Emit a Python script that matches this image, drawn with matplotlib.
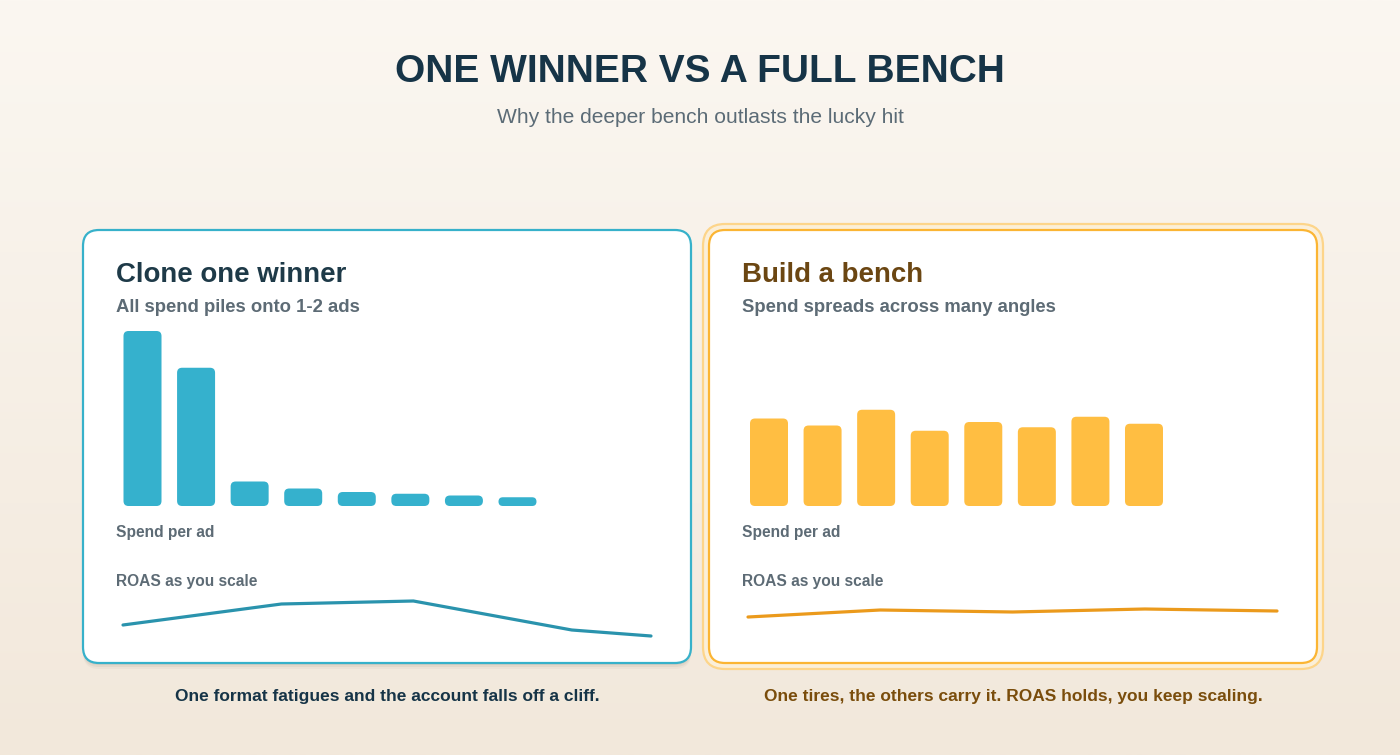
import numpy as np
import matplotlib
matplotlib.use("Agg")
import matplotlib.pyplot as plt
from matplotlib.patches import FancyBboxPatch

plt.rcParams['font.family'] = ['Liberation Sans', 'DejaVu Sans']

# data
ads = np.arange(8)
clone_spend = [100, 79, 14, 10, 8, 7, 6, 5]
bench_spend = [50, 46, 55, 43, 48, 45, 51, 47]
clone_scale = [0, 30, 55, 85, 100]
clone_roas = [3.16, 4.0, 4.12, 2.96, 2.72]
bench_scale = [0, 25, 50, 75, 100]
bench_roas = [3.48, 3.76, 3.68, 3.8, 3.72]

title = "ONE WINNER VS A FULL BENCH"
subtitle = "Why the deeper bench outlasts the lucky hit"

W, H = 1400, 755
fig = plt.figure(figsize=(W / 100, H / 100), dpi=100)

# pixel-coordinate overlay
bg = fig.add_axes([0, 0, 1, 1])
bg.set_xlim(0, W)
bg.set_ylim(H, 0)
bg.axis("off")
grad = np.linspace(0, 1, 256)[:, None]
top = np.array([251, 247, 241]) / 255
bot = np.array([242, 232, 219]) / 255
img = top[None, None, :] * (1 - grad[..., None]) + bot[None, None, :] * grad[..., None]
bg.imshow(img, extent=[0, W, H, 0], aspect="auto", zorder=0)


def card(x0, x1, y0, y1, edge, halo=None):
    # soft shadow
    for off, a in [(6, 0.10), (4, 0.18), (2, 0.25)]:
        bg.add_patch(FancyBboxPatch((x0, y0 + off), x1 - x0, y1 - y0,
                                    boxstyle="round,pad=0,rounding_size=16",
                                    fc="#b8ad9c", ec="none", alpha=a, zorder=1))
    if halo:
        bg.add_patch(FancyBboxPatch((x0 - 6, y0 - 6), x1 - x0 + 12, y1 - y0 + 12,
                                    boxstyle="round,pad=0,rounding_size=22",
                                    fc="#fbefd8", ec=halo, lw=1.6, zorder=1.5))
    bg.add_patch(FancyBboxPatch((x0, y0), x1 - x0, y1 - y0,
                                boxstyle="round,pad=0,rounding_size=16",
                                fc="white", ec=edge, lw=1.6, zorder=2))


card(83, 691, 230, 663, "#37b1ca")
card(709, 1317, 230, 663, "#fbb533", halo="#fdd58a")

bg.text(700, 82, title, ha="center", va="baseline", fontsize=28, fontweight="bold",
        color="#163447", zorder=5)
bg.text(700, 123, subtitle, ha="center", va="baseline", fontsize=15.1, color="#5b6b76", zorder=5)

panels = [
    (116, "Clone one winner", "#1e3a48", "All spend piles onto 1-2 ads"),
    (742, "Build a bench", "#6b4612", "Spend spreads across many angles"),
]
for x, t, c, s in panels:
    bg.text(x, 282, t, ha="left", va="baseline", fontsize=19.9, fontweight="bold", color=c, zorder=5)
    bg.text(x, 312, s, ha="left", va="baseline", fontsize=13.3, fontweight="bold", color="#5d6b75", zorder=5)
    bg.text(x, 537, "Spend per ad", ha="left", va="baseline", fontsize=11.2, fontweight="bold",
            color="#5d6b75", zorder=5)
    bg.text(x, 586, "ROAS as you scale", ha="left", va="baseline", fontsize=11.2, fontweight="bold",
            color="#5d6b75", zorder=5)

bg.text(387, 701, "One format fatigues and the account falls off a cliff.", ha="center",
        va="baseline", fontsize=12.5, fontweight="bold", color="#163447", zorder=5)
bg.text(1013, 701, "One tires, the others carry it. ROAS holds, you keep scaling.", ha="center",
        va="baseline", fontsize=12.5, fontweight="bold", color="#7a4d0c", zorder=5)


def px_axes(x0, x1, y0, y1):
    return fig.add_axes([x0 / W, 1 - y1 / H, (x1 - x0) / W, (y1 - y0) / H])


pitch = 53.57  # px between bar centres
ymax_px = 175.0  # px for value 100


def bar_panel(first_centre, values, color):
    x0 = first_centre - 42.5
    x1 = x0 + 580
    ax = px_axes(x0, x1, 320, 506)
    left = -(first_centre - x0) / pitch
    ax.set_xlim(left, left + 580 / pitch)
    ax.set_ylim(0, 186 / ymax_px * 100)
    ax.axis("off")
    ax.patch.set_alpha(0)
    bars = ax.bar(ads, values, width=38 / pitch, color=color)
    asp = (100 / ymax_px) * pitch
    for b in bars:
        x, y, w, h = b.get_x(), b.get_y(), b.get_width(), b.get_height()
        r = min(5 / pitch, h / asp / 2)
        ax.add_patch(FancyBboxPatch((x, y), w, h, boxstyle=f"round,pad=0,rounding_size={r}",
                                    mutation_aspect=asp, fc=color, ec="none"))
        b.remove()
    return ax


bar_panel(142.5, clone_spend, "#35b1cd")
bar_panel(769, bench_spend, "#ffbe42")


def line_panel(x0, x1, xs, ys, color):
    ax = px_axes(x0, x1, 590, 660)
    ax.set_xlim(0, 100)
    ax.set_ylim((704 - 660) / 25, (704 - 590) / 25)
    ax.axis("off")
    ax.patch.set_alpha(0)
    ax.plot(xs, ys, color=color, lw=2.3, solid_capstyle="round", solid_joinstyle="round",
            clip_on=False)


line_panel(123, 651, clone_scale, clone_roas, "#2a93ad")
line_panel(748, 1277, bench_scale, bench_roas, "#eb9a1c")

fig.savefig("out.png", dpi=100)
